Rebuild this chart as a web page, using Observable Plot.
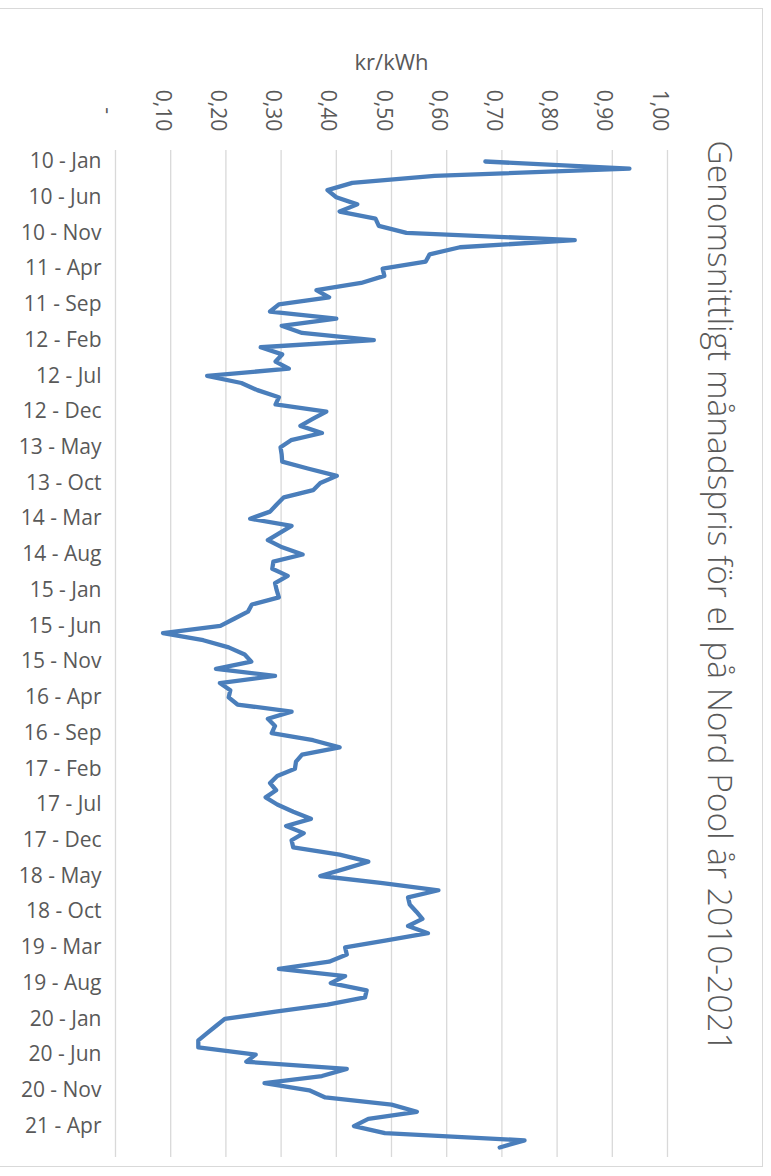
<!DOCTYPE html>
<html>
<head>
<meta charset="utf-8">
<script src="https://cdn.jsdelivr.net/npm/d3@7"></script>
<script src="https://cdn.jsdelivr.net/npm/@observablehq/plot@0.6"></script>
<style>
  html, body { margin: 0; padding: 0; background: #ffffff; }
  #wrap { position: relative; width: 771px; height: 1176px; overflow: hidden; }
  #border { position: absolute; left: -2px; top: 8px; width: 765px; height: 1159px; border: 1px solid #d9d9d9; box-sizing: border-box; pointer-events: none; }
</style>
</head>
<body>
<div id="wrap"><div id="border"></div></div>
<script>
// ---- data ----
const title = "Genomsnittligt månadspris för el på Nord Pool år 2010-2021";
const unitLabel = "kr/kWh";
const startYear = 2010;
const monthNames = ["Jan","Feb","Mar","Apr","May","Jun","Jul","Aug","Sep","Oct","Nov","Dec"];
const prices = [
  0.670, 0.931, 0.578, 0.429, 0.384, 0.400, 0.438, 0.406, 0.471, 0.477, 0.527, 0.832,
  0.624, 0.569, 0.562, 0.484, 0.487, 0.445, 0.364, 0.387, 0.296, 0.280, 0.400, 0.301,
  0.338, 0.468, 0.263, 0.302, 0.290, 0.314, 0.166, 0.228, 0.257, 0.296, 0.290, 0.382,
  0.358, 0.335, 0.374, 0.318, 0.299, 0.301, 0.302, 0.350, 0.401, 0.371, 0.358, 0.305,
  0.292, 0.280, 0.244, 0.319, 0.297, 0.276, 0.302, 0.339, 0.286, 0.284, 0.312, 0.289,
  0.292, 0.296, 0.247, 0.240, 0.215, 0.190, 0.086, 0.159, 0.205, 0.234, 0.246, 0.182,
  0.289, 0.189, 0.208, 0.205, 0.221, 0.319, 0.276, 0.289, 0.283, 0.358, 0.406, 0.338,
  0.327, 0.325, 0.293, 0.280, 0.291, 0.272, 0.293, 0.322, 0.354, 0.309, 0.341, 0.319,
  0.322, 0.406, 0.458, 0.415, 0.371, 0.484, 0.585, 0.530, 0.533, 0.545, 0.556, 0.530,
  0.566, 0.491, 0.416, 0.419, 0.387, 0.296, 0.416, 0.390, 0.455, 0.452, 0.384, 0.290,
  0.198, 0.182, 0.166, 0.150, 0.150, 0.254, 0.237, 0.419, 0.374, 0.270, 0.351, 0.380,
  0.500, 0.546, 0.458, 0.432, 0.488, 0.741, 0.696
];
const categories = prices.map((_, i) =>
  String((startYear + Math.floor(i / 12)) % 100).padStart(2, "0") + " - " + monthNames[i % 12]);
const labelStep = 5;
const categoryTicks = d3.range(0, prices.length, labelStep);
const valueTicks = [0, 0.1, 0.2, 0.3, 0.4, 0.5, 0.6, 0.7, 0.8, 0.9, 1.0];
const valueTickLabels = ["-", "0,10", "0,20", "0,30", "0,40", "0,50", "0,60", "0,70", "0,80", "0,90", "1,00"];

const series = prices.map((v, i) => ({i, v, label: categories[i]}));

const font = "'Open Sans', 'Liberation Sans', sans-serif";
const gray = "#595959";

const chart = Plot.plot({
  width: 771,
  height: 1176,
  marginTop: 150,
  marginBottom: 19,
  marginLeft: 115,
  marginRight: 104,
  style: {fontFamily: font, background: "transparent", overflow: "visible"},
  x: {domain: [0, 1], axis: null},
  y: {domain: [-1.54, 139.4], reverse: true, axis: null},
  marks: [
    Plot.gridX(valueTicks, {stroke: "#d9d9d9", strokeOpacity: 1, strokeWidth: 1.3}),
    Plot.line(series, {x: "v", y: "i", stroke: "#4a7ebb", strokeWidth: 4.3, strokeLinejoin: "round", strokeLinecap: "round"}),
    Plot.text(categoryTicks, {y: d => d, text: d => categories[d], frameAnchor: "left", dx: -14, textAnchor: "end", fill: gray, fontSize: 21}),
    Plot.text(valueTicks, {x: d => d, text: (d, k) => valueTickLabels[k], frameAnchor: "top", dy: -40, rotate: 90, textAnchor: "middle", fill: gray, fontSize: 21}),
    Plot.text([unitLabel], {frameAnchor: "top", dy: -96, text: d => d, fill: gray, fontSize: 22}),
    Plot.text([title], {frameAnchor: "right", dx: 51, dy: -58, rotate: 90, text: d => d, textAnchor: "middle", fill: gray, fontSize: 33.5, fontWeight: 300})
  ]
});
document.getElementById("wrap").prepend(chart);
</script>
</body>
</html>
